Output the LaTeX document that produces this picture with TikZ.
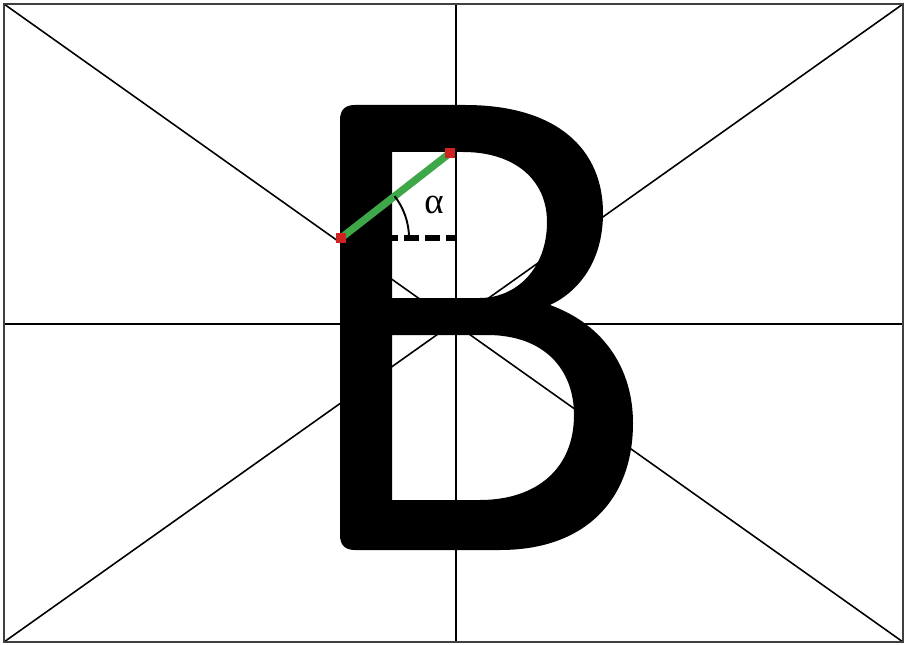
\documentclass[tikz,border=0pt]{standalone}
\usepackage{fontspec}
\usepackage{tikz}

\newfontfamily\greekserif{Liberation Serif}
\definecolor{strokegreen}{RGB}{62,168,72}
\definecolor{dotred}{RGB}{205,35,35}

\begin{document}
\begin{tikzpicture}[
    x=0.02cm, y=-0.02cm,
    frame/.style={draw=black!75, line width=1.4pt},
    guide/.style={draw=black, line width=0.9pt},
    glyph/.style={fill=black, even odd rule},
    slant/.style={draw=strokegreen, line width=4.2pt},
    enddot/.style={fill=dotred, inner sep=0pt, minimum size=5.5pt},
    level/.style={draw=black, line width=3.3pt, dash pattern=on 8.5pt off 3.5pt},
    anglearc/.style={draw=black, line width=1.1pt},
  ]
    \useasboundingbox (0,0) rectangle (906,645);
    \coordinate (tl) at (4,4);
    \coordinate (tr) at (903,4);
    \coordinate (bl) at (4,642);
    \coordinate (br) at (903,642);
    \coordinate (mt) at (456,4);
    \coordinate (mb) at (456,642);
    \coordinate (ml) at (4,324);
    \coordinate (mr) at (903,324);
    \draw[guide] (tl) -- (br);
    \draw[guide] (tr) -- (bl);
    \draw[guide] (mt) -- (mb);
    \draw[guide] (ml) -- (mr);
    \draw[frame] (tl) rectangle (br);

    \path[glyph]
      (355,105) -- (465,105)
        .. controls (558,105) and (603,150) .. (603,213)
        .. controls (603,262) and (578,292) .. (550,305)
        .. controls (605,325) and (633,370) .. (633,423)
        .. controls (633,500) and (585,550) .. (500,550)
        -- (355,550) .. controls (345,550) and (340,545) .. (340,535)
        -- (340,120) .. controls (340,110) and (345,105) .. (355,105) -- cycle
      (392,152) -- (463,152)
        .. controls (515,152) and (547,180) .. (547,222)
        .. controls (547,270) and (515,298) .. (480,298)
        -- (392,298) -- cycle
      (392,335) -- (487,335)
        .. controls (545,335) and (574,370) .. (574,415)
        .. controls (574,470) and (535,500) .. (480,500)
        -- (392,500) -- cycle;

    \node[enddot] (p1) at (341,238) {};
    \node[enddot] (p2) at (450,153) {};
    \coordinate (lvl) at (455,238);
    \draw[level] (p1.center) -- (lvl);
    \draw[slant] (p1.center) -- (p2.center);
    \node[enddot] at (p1) {};
    \node[enddot] at (p2) {};
    \draw[anglearc] (p1.center) ++(-38:68) arc[start angle=-38, end angle=0, radius=68];
    \node[font=\greekserif\fontsize{21}{24}\selectfont] (alpha) at (434,205) {α};
  \end{tikzpicture}
\end{document}
